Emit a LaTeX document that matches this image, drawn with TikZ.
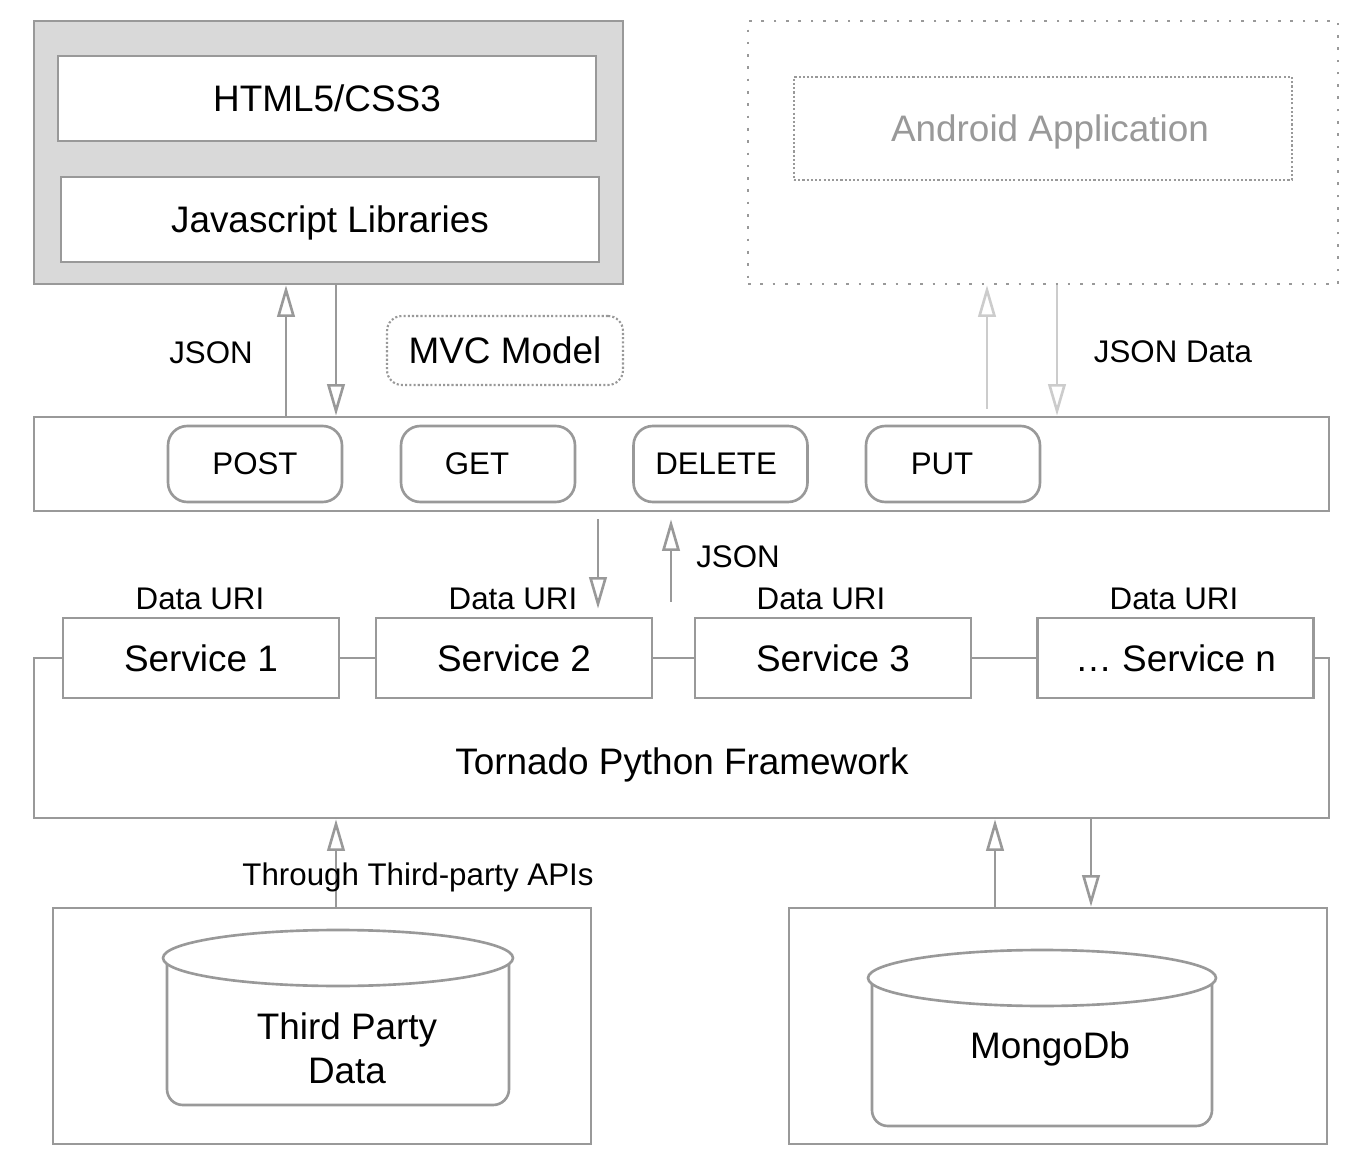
\documentclass[tikz,border=0pt]{standalone}
\usepackage{fontspec}
\setmainfont{Liberation Sans}
\usetikzlibrary{%
  arrows.meta,%
  shapes,%
  positioning%
}

\definecolor{linegray}{HTML}{999999}
\definecolor{fillgray}{HTML}{D9D9D9}
\definecolor{faintgray}{HTML}{CCCCCC}

\newcommand{\bigfont}{\fontsize{21}{25}\selectfont}
\newcommand{\smallfont}{\fontsize{17.8}{21}\selectfont}

\begin{document}
\begin{tikzpicture}
[x=0.02cm, y=-0.02cm, draw=linegray, line width=1.5pt,
>={Triangle[open, length=18pt, width=10pt]},
box/.style={rectangle, draw, fill=white, inner sep=0pt, font=\bigfont},
layer/.style={box, minimum width=10.76cm, minimum height=1.7cm, text depth=0pt},
method/.style={box, rounded corners=11pt, minimum width=3.48cm, minimum height=1.52cm, font=\smallfont},
service/.style={box, minimum width=5.52cm, minimum height=1.6cm},
store/.style={box, minimum width=10.76cm, minimum height=4.72cm},
tag/.style={inner sep=0pt, font=\smallfont},
faint/.style={draw=faintgray}]

\useasboundingbox (0,0) rectangle (1360,1172);

% client
\node[box, fill=fillgray, minimum width=11.78cm, minimum height=5.26cm] (client) at (328.5,152.5) {};
\node[layer] (html) at (327,98.5) {HTML5/CSS3};
\node[layer] (jslib) at (330,219.5) {Javascript Libraries};

% android
\node[box, dash pattern=on 1.5pt off 5.5pt, minimum width=11.8cm, minimum height=5.26cm] (android) at (1043,152.5) {};
\node[box, line width=1.2pt, dash pattern=on 1.2pt off 1.2pt, text=linegray, text depth=0pt,
  minimum width=9.96cm, minimum height=2.06cm] (androidapp) at (1043,128.5) {\hspace*{8pt}Android Application};

\node[box, rounded corners=8.5pt, line width=1.2pt, dash pattern=on 1.2pt off 1.2pt,
  minimum width=4.72cm, minimum height=1.38cm] (mvc) at (505,350.5) {MVC Model};

% http methods
\node[box, minimum width=25.9cm, minimum height=1.88cm] (http) at (681.5,464) {};
\node[method] (post) at (255,464) {POST};
\node[method] (get) at (488,464) {\hspace*{-12.5pt}GET};
\node[method] (delete) at (720.5,464) {\hspace*{-5pt}DELETE};
\node[method] (put) at (953,464) {\hspace*{-12.5pt}PUT};

% framework and services
\node[box, minimum width=25.9cm, minimum height=3.2cm] (tornado) at (681.5,738) {};
\node[font=\bigfont] (tornadolabel) at (682,765) {Tornado Python Framework};
\node[service] (service1) at (201,658) {Service 1};
\node[service] (service2) at (514,658) {Service 2};
\node[service] (service3) at (833,658) {Service 3};
\node[service] (servicen) at (1175.5,658) {\dots\ Service n};
\node[tag] (uri1) at (200,599) {Data URI};
\node[tag] (uri2) at (513,599) {Data URI};
\node[tag] (uri3) at (821,599) {Data URI};
\node[tag] (urin) at (1174,599) {Data URI};

% data stores
\node[store] (thirdbox) at (322,1026) {};
\node[store] (mongobox) at (1058,1026) {};
\draw[rounded corners=9pt] (167,958) -- (167,1105) -- (509,1105) -- (509,958);
\draw[fill=white] (338,958) ellipse [x radius=3.5cm, y radius=0.56cm];
\node[align=center, font=\bigfont] (thirddata) at (347,1048) {Third Party\\Data};
\draw[rounded corners=9pt] (872,978) -- (872,1126) -- (1212,1126) -- (1212,978);
\draw[fill=white] (1042,978) ellipse [x radius=3.48cm, y radius=0.56cm];
\node[font=\bigfont] (mongodb) at (1050,1049) {MongoDb};

% connectors
\coordinate (webup) at (286,0);
\coordinate (webdown) at (336,0);
\coordinate (appup) at (987,0);
\coordinate (appdown) at (1057,0);
\coordinate (uridown) at (598,0);
\coordinate (jsonback) at (671,0);
\coordinate (apiup) at (336,0);
\coordinate (mongoup) at (995,0);
\coordinate (mongodown) at (1091,0);

\draw[->] (http.north -| webup) -- (client.south -| webup);
\draw[->] (client.south -| webdown) -- (http.north -| webdown);
\node[tag] (jsonweb) at (211,353) {JSON};

\draw[faint, ->, shorten <=0.14cm] (http.north -| appup) -- (android.south -| appup);
\draw[faint, ->] (android.south -| appdown) -- (http.north -| appdown);
\node[tag] (jsonapp) at (1173,352) {JSON Data};

\draw[->, shorten <=0.14cm, shorten >=0.16cm] (http.south -| uridown) -- (service2.north -| uridown);
\draw[->, shorten <=0.3cm, shorten >=0.14cm] (service2.north -| jsonback) -- (http.south -| jsonback);
\node[tag] (jsonservice) at (738,557) {JSON};

\draw[->] (thirdbox.north -| apiup) -- (tornado.south -| apiup);
\node[tag] (apilabel) at (418,877) {Through Third-party APIs};
\draw[->] (mongobox.north -| mongoup) -- (tornado.south -| mongoup);
\draw[->] (tornado.south -| mongodown) -- (mongobox.north -| mongodown);
\end{tikzpicture}
\end{document}
